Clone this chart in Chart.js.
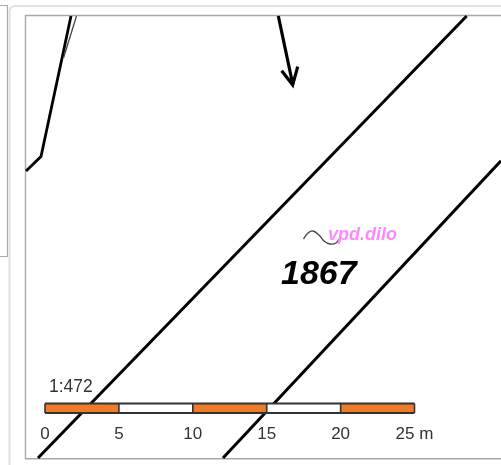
<!DOCTYPE html>
<html>
<head>
<meta charset="utf-8">
<title>Parcel 1867</title>
<script src="https://cdn.jsdelivr.net/npm/chart.js@4"></script>
<style>
html, body { margin: 0; padding: 0; background: #fff; overflow: hidden; }
canvas { display: block; filter: blur(0.35px); }
</style>
</head>
<body>
<canvas id="map" width="501" height="465"></canvas>
<script>
// page chrome around the map
const leftPanel = [[0, 5.5], [7.5, 5.5], [7.5, 256.5], [0, 256.5]];
const outerPanel = [[9.5, 465], [9.5, 11], [10.5, 8], [14, 6], [501, 6]];
const mapFrame = [[501, 458.7], [25.5, 458.7], [25.5, 15.5], [501, 15.5]];

// parcel boundaries
const boundaryBend = [[26, 171], [41, 156.5], [71, 16]];
const boundaryFaint = [[63.5, 58], [76.5, 16]];
const boundaryA = [[466.7, 16], [38, 458]];
const boundaryB = [[501, 160.7], [223, 458]];
const arrowShaft = [[278.3, 16], [292.7, 84]];
const arrowHead = [[281.7, 70.7], [292.7, 85], [297.7, 66.7]];
const squiggle = [[303.5, 239], [308, 233], [313, 231], [319, 235], [324, 241], [330, 244], [336, 243], [340, 238]];

// scale bar, in metres
const barStops = [0, 5, 10, 15, 20, 25];
const barColors = ["#f47a20", "#ffffff", "#f47a20", "#ffffff", "#f47a20"];
const barTop = 403.5;
const barBottom = 413;

const texts = [
  { text: "1867", x: 281, y: 284, font: "italic bold 34px 'Liberation Sans'", color: "#000" },
  { text: "vpd.dilo", x: 328, y: 239.5, font: "italic bold 18px 'Liberation Sans'", color: "#ff88ff" },
  { text: "1:472", x: 49, y: 392, font: "17.5px 'Liberation Sans'", color: "#333" }
];

const xy = (pts) => pts.map(([x, y]) => ({ x, y }));
const datasets = [];

function addLine(pts, color, width, extra = {}) {
  datasets.push({
    data: xy(pts),
    borderColor: color,
    borderWidth: width,
    showLine: true,
    pointRadius: 0,
    tension: 0,
    order: -datasets.length,
    ...extra
  });
}

addLine(leftPanel, "#aaaaaa", 1.2);
addLine(outerPanel, "#e2e2e2", 2);
addLine(mapFrame, "#a8a8a8", 1.4);
addLine(boundaryBend, "#000", 2.8);
addLine(boundaryFaint, "#444", 1.3);
addLine(boundaryA, "#000", 3);
addLine(boundaryB, "#000", 3);
addLine(arrowShaft, "#000", 3.2);
addLine(arrowHead, "#000", 3.2);
addLine(squiggle, "#444", 1.3, { tension: 0.4 });

// bar cells use the metre axis so they line up with its tick labels
barColors.forEach((color, i) => {
  const mid = (barTop + barBottom) / 2;
  addLine([[barStops[i], mid], [barStops[i + 1], mid]], color, barBottom - barTop, { xAxisID: "metres" });
});
barStops.forEach((stop) => {
  addLine([[stop, barTop], [stop, barBottom]], "#333", 1.6, { xAxisID: "metres" });
});
addLine([[0, barTop], [25, barTop]], "#333", 1.8, { xAxisID: "metres" });
addLine([[0, barBottom], [25, barBottom]], "#333", 1.8, { xAxisID: "metres" });

const mapTexts = {
  id: "mapTexts",
  afterDatasetsDraw(chart) {
    const { ctx, scales } = chart;
    ctx.save();
    ctx.textBaseline = "alphabetic";
    texts.forEach((t) => {
      ctx.font = t.font;
      ctx.fillStyle = t.color;
      ctx.fillText(t.text, scales.x.getPixelForValue(t.x), scales.y.getPixelForValue(t.y));
    });
    ctx.restore();
  }
};

new Chart(document.getElementById("map"), {
  type: "scatter",
  data: { datasets },
  plugins: [mapTexts],
  options: {
    responsive: false,
    animation: false,
    layout: { padding: 0 },
    plugins: { legend: { display: false }, tooltip: { enabled: false } },
    scales: {
      x: { type: "linear", min: 0, max: 501, display: false },
      y: { type: "linear", min: 0, max: 465, reverse: true, display: false },
      metres: {
        type: "linear",
        axis: "x",
        position: { y: 419 },
        min: -45 / 14.78,
        max: (501 - 45) / 14.78,
        z: 1,
        grid: { display: false, drawTicks: false },
        border: { display: false },
        afterBuildTicks: (axis) => { axis.ticks = barStops.map((value) => ({ value })); },
        ticks: {
          autoSkip: false,
          maxRotation: 0,
          padding: 5,
          color: "#333",
          font: { family: "'Liberation Sans'", size: 17 },
          callback: (value) => (value === 25 ? "25 m" : String(value))
        }
      }
    }
  }
});
</script>
</body>
</html>
